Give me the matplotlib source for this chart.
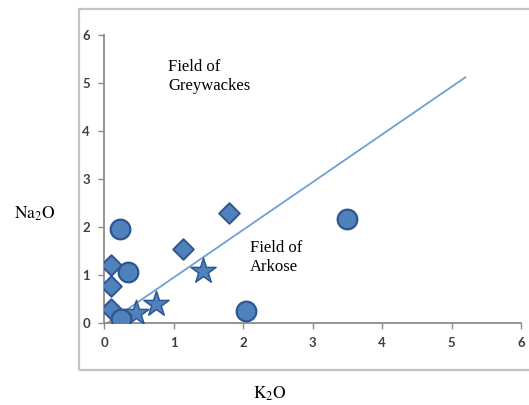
import matplotlib
matplotlib.use("Agg")
import matplotlib.pyplot as plt
from matplotlib.patches import Rectangle

# K2O vs Na2O discrimination plot (greywacke / arkose)
circle_k2o = [0.23, 0.35, 0.25, 2.05, 3.5]
circle_na2o = [1.95, 1.06, 0.08, 0.26, 2.17]

diamond_k2o = [0.1, 0.1, 0.1, 1.14, 1.8]
diamond_na2o = [1.21, 0.78, 0.3, 1.54, 2.3]

star_k2o = [0.46, 0.75, 1.42]
star_na2o = [0.2, 0.39, 1.09]

# boundary line between the two fields
line_k2o = [0.05, 5.2]
line_na2o = [0.0, 5.12]

ticks = [0, 1, 2, 3, 4, 5, 6]

plt.rcParams['mathtext.fontset'] = 'stix'

fill = '#4f81bd'
edge = '#2f5690'
serif = 'Liberation Serif'
tickfont = 'Lato'


def main():
    fig = plt.figure(figsize=(5.29, 4.05), dpi=100)
    ax = fig.add_axes([0.1966, 0.2025, 0.7884, 0.7111])

    # grey frame around the chart area
    fig.patches.append(Rectangle((79 / 529, 1 - 370 / 405), 1.0, 361 / 405,
                                 transform=fig.transFigure, fill=False,
                                 edgecolor='#c4c4c4', linewidth=1.6))

    ax.plot(line_k2o, line_na2o, color='#6f9fd8', linewidth=1.3, zorder=2)

    ax.scatter(diamond_k2o, diamond_na2o, marker='D', s=110, color=fill,
               edgecolor=edge, linewidth=1.4, zorder=3)
    ax.scatter(star_k2o, star_na2o, marker='*', s=360, color=fill,
               edgecolor=edge, linewidth=1.1, zorder=3)
    ax.scatter(circle_k2o, circle_na2o, marker='o', s=200, color=fill,
               edgecolor=edge, linewidth=1.6, zorder=4)

    ax.set_xlim(0, 6)
    ax.set_ylim(0, 6)
    ax.set_xticks(ticks)
    ax.set_yticks(ticks)

    for s in ['top', 'right']:
        ax.spines[s].set_visible(False)
    for s in ['left', 'bottom']:
        ax.spines[s].set_color('#8c8c8c')
        ax.spines[s].set_linewidth(1.3)
    ax.tick_params(colors='#8c8c8c', length=4, width=1.0, pad=6)
    for lab in ax.get_xticklabels() + ax.get_yticklabels():
        lab.set_fontfamily(tickfont)
        lab.set_fontweight('bold')
        lab.set_fontsize(9.5)
        lab.set_color('#404040')

    ax.text(0.92, 5.5, 'Field of\nGreywackes', fontfamily=serif,
            fontsize=12, va='top', ha='left', linespacing=1.25)
    ax.text(2.1, 1.72, 'Field of\nArkose', fontfamily=serif,
            fontsize=12, va='top', ha='left', linespacing=1.25)

    fig.text(35 / 529, 1 - 214 / 405, r'$\mathrm{Na_2O}$', fontsize=12.5,
             ha='center', va='center')
    fig.text(270 / 529, 1 - 394 / 405, r'$\mathrm{K_2O}$', fontsize=12.5,
             ha='center', va='center')

    fig.savefig('out.png', dpi=100)


if __name__ == '__main__':
    main()
